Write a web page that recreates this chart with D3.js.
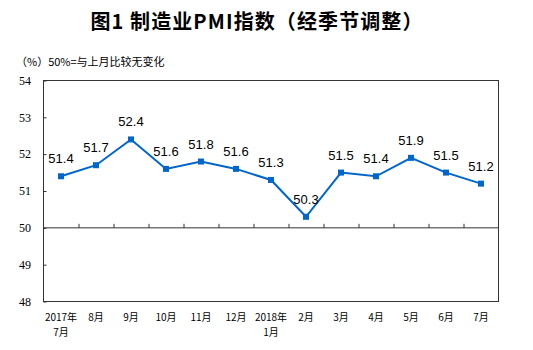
<!DOCTYPE html>
<html><head><meta charset="utf-8">
<script src="https://cdn.jsdelivr.net/npm/d3@7"></script>
<style>body{margin:0;background:#fff}</style>
</head><body>
<svg id="c" width="533" height="350"></svg>
<script>
const categories = ["2017年|7月","8月","9月","10月","11月","12月","2018年|1月","2月","3月","4月","5月","6月","7月"];
const values = [51.4,51.7,52.4,51.6,51.8,51.6,51.3,50.3,51.5,51.4,51.9,51.5,51.2];
const yTicks = [48,49,50,51,52,53,54];
const title = "图1 制造业PMI指数（经季节调整）";
const subtitle = "（%）50%=与上月比较无变化";

const svg = d3.select("#c");
const L = 43.5, R = 498.5, T = 80.5, B = 301.5;
const x = d3.scaleBand().domain(d3.range(categories.length)).range([L, R]);
const y = d3.scaleLinear().domain([48, 54]).range([B, T]);
const blue = "#0066CC";
const cjk = "'Noto Sans CJK SC', sans-serif";

svg.append("text").attr("x", 257).attr("y", 29).attr("text-anchor", "middle")
  .attr("font-family", cjk).attr("font-weight", "bold").attr("font-size", 20)
  .attr("letter-spacing", 1.1).attr("fill", "#000").text(title);
svg.append("text").attr("x", 16).attr("y", 66)
  .attr("font-family", cjk).attr("font-size", 11).attr("fill", "#000").text(subtitle);

// plot frame
svg.append("rect").attr("x", L).attr("y", T).attr("width", R - L).attr("height", B - T)
  .attr("fill", "none").attr("stroke", "#333").attr("stroke-width", 1);

// y axis
const yAxis = d3.axisRight(y).tickValues(yTicks).tickSize(3).tickFormat("");
const yg = svg.append("g").attr("transform", `translate(${L},0)`).call(yAxis);
yg.select(".domain").remove();
yg.selectAll("line").attr("stroke", "#333");
svg.append("g").selectAll("text").data(yTicks).join("text")
  .attr("x", 31).attr("y", d => y(d)).attr("dy", "0.35em").attr("text-anchor", "end")
  .attr("font-family", "'Liberation Serif', serif").attr("font-size", 12).attr("fill", "#000").text(d => d);

// x axis at 50
const xb = d3.scaleLinear().domain([0, categories.length]).range([L, R]);
const xAxis = d3.axisTop(xb).tickValues(d3.range(1, categories.length)).tickSize(4).tickFormat("");
const xg = svg.append("g").attr("transform", `translate(0,${y(50)})`).call(xAxis);
xg.select(".domain").remove();
xg.selectAll("line").attr("stroke", "#333");
svg.append("line").attr("x1", L).attr("x2", R).attr("y1", y(50)).attr("y2", y(50)).attr("stroke", "#333");

// x labels (one text per row)
const rows = [];
categories.forEach((d, i) => d.split("|").forEach((p, j) => rows.push({i, j, p})));
svg.append("g").selectAll("text").data(rows).join("text")
  .attr("x", d => x(d.i) + x.bandwidth() / 2).attr("y", d => 321 + d.j * 14.5)
  .attr("text-anchor", "middle").attr("font-family", cjk).attr("font-size", 10)
  .attr("fill", "#000").text(d => d.p);

// line
const cx = i => x(i) + x.bandwidth() / 2;
svg.append("path").datum(values)
  .attr("d", d3.line().x((d, i) => cx(i)).y(d => y(d)))
  .attr("fill", "none").attr("stroke", blue).attr("stroke-width", 2);
svg.append("g").selectAll("rect").data(values).join("rect")
  .attr("x", (d, i) => cx(i) - 3).attr("y", d => y(d) - 3).attr("width", 6).attr("height", 6).attr("fill", blue);
svg.append("g").selectAll("text").data(values).join("text")
  .attr("x", (d, i) => cx(i)).attr("y", d => y(d) - 13).attr("text-anchor", "middle")
  .attr("font-family", "'Liberation Sans', Arial, sans-serif").attr("font-size", 13).attr("fill", "#000")
  .text(d => d.toFixed(1));
</script>
</body></html>
